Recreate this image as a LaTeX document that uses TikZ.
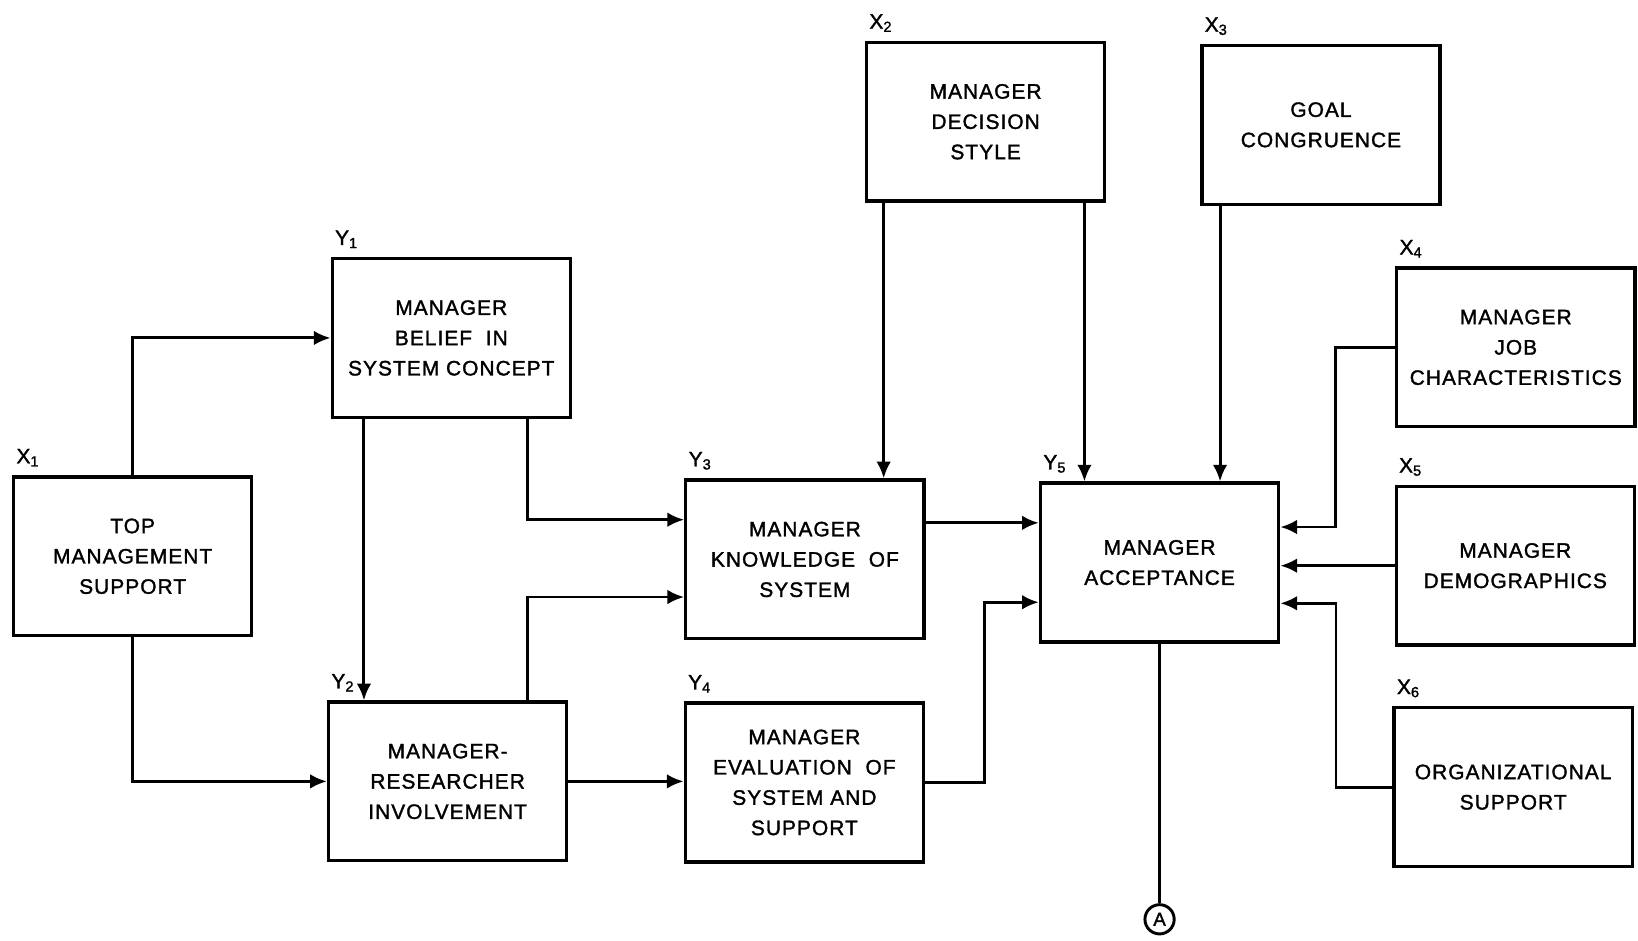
\documentclass[tikz,border=0pt]{standalone}
\usepackage{fontspec}
\setmainfont[LetterSpace=5,FakeBold=1.5]{Liberation Sans}
\usepackage{tikz}
\usetikzlibrary{arrows.meta,positioning}
\tikzset{
    var-box/.style = {draw=black, fill=white, line width=1.6pt, rectangle, minimum width=114pt, minimum height=76pt, align=center, font=\fontsize{10}{14.5}\selectfont},
    var-tag/.style = {inner sep=0pt, font=\fontsize{10}{12}\selectfont},
    link/.style = {draw=black, line width=1.4pt},
    link-arrow/.style = {link, -{Latex[length=8pt,width=7pt]}},
}

\begin{document}
\begin{tikzpicture}[x=0.5pt,y=-0.5pt]
\useasboundingbox (0,0) rectangle (1568,900);
% boxes
\node [var-box] (x1) at (127,532.5) {TOP\\MANAGEMENT\\SUPPORT};
\node [var-box] (y1) at (432,323.5) {MANAGER\\BELIEF \ IN\\SYSTEM CONCEPT};
\node [var-box] (y2) at (428.5,748) {MANAGER-\\RESEARCHER\\INVOLVEMENT};
\node [var-box] (y3) at (770.5,535.5) {MANAGER\\KNOWLEDGE \ OF\\SYSTEM};
\node [var-box] (y4) at (770,749) {MANAGER\\EVALUATION \ OF\\SYSTEM AND\\SUPPORT};
\node [var-box] (x2) at (943.5,116.5) {MANAGER\\DECISION\\STYLE};
\node [var-box] (x3) at (1264.5,119.5) {GOAL\\CONGRUENCE};
\node [var-box] (y5) at (1110,538.5) {MANAGER\\ACCEPTANCE};
\node [var-box] (x4) at (1451,332.5) {MANAGER\\JOB\\CHARACTERISTICS};
\node [var-box] (x5) at (1450.5,541.5) {MANAGER\\DEMOGRAPHICS};
\node [var-box] (x6) at (1448.5,753.5) {ORGANIZATIONAL\\SUPPORT};
\node [draw, circle, line width=1.4pt, inner sep=0pt, minimum size=14pt, font=\fontsize{9}{10}\selectfont] (a) at (1110,880) {A};

% variable tags
\node [var-tag, above right=4pt and 2pt] at (x1.north west) {X\textsubscript{1}};
\node [var-tag, above right=4pt and 2pt] at (x2.north west) {X\textsubscript{2}};
\node [var-tag, above right=4pt and 2pt] at (x3.north west) {X\textsubscript{3}};
\node [var-tag, above right=4pt and 2pt] at (x4.north west) {X\textsubscript{4}};
\node [var-tag, above right=4pt and 2pt] at (x5.north west) {X\textsubscript{5}};
\node [var-tag, above right=4pt and 2pt] at (x6.north west) {X\textsubscript{6}};
\node [var-tag, above right=4pt and 2pt] at (y1.north west) {Y\textsubscript{1}};
\node [var-tag, above right=4pt and 2pt] at (y2.north west) {Y\textsubscript{2}};
\node [var-tag, above right=4pt and 2pt] at (y3.north west) {Y\textsubscript{3}};
\node [var-tag, above right=4pt and 2pt] at (y4.north west) {Y\textsubscript{4}};
\node [var-tag, above right=4pt and 2pt] at (y5.north west) {Y\textsubscript{5}};

% links
\draw [link-arrow] (x1.north) |- (y1.west);
\draw [link-arrow] (x1.south) |- (y2.west);
\draw [link-arrow] ([xshift=16pt]y1.south west) -- ([xshift=16pt]y1.south west |- y2.north);
\draw [link-arrow] ([xshift=-21.5pt]y1.south east) |- ([yshift=19pt]y3.west);
\draw [link-arrow] ([xshift=-19.5pt]y2.north east) |- ([yshift=-18pt]y3.west);
\draw [link-arrow] (y2.east) -- (y2.east -| y4.west);
\draw [link-arrow] ([yshift=17.5pt]y3.east) -- ([yshift=17.5pt]y3.east -| y5.west);
\draw [link-arrow] (y4.east) -- ++(28.5pt,0) |- ([yshift=-19pt]y5.west);
\draw [link-arrow] ([xshift=9pt]x2.south west) -- ([xshift=9pt]x2.south west |- y3.north);
\draw [link-arrow] ([xshift=-10.5pt]x2.south east) -- ([xshift=-10.5pt]x2.south east |- y5.north);
\draw [link-arrow] ([xshift=9.5pt]x3.south west) -- ([xshift=9.5pt]x3.south west |- y5.north);
\draw [link-arrow] (x4.west) -- ++(-28.5pt,0) |- ([yshift=17pt]y5.east);
\draw [link-arrow] (x5.west) -- (x5.west -| y5.east);
\draw [link-arrow] (x6.west) -- ++(-27pt,0) |- ([yshift=-19.5pt]y5.east);
\draw [link] (y5.south) -- (a.north);
\end{tikzpicture}
\end{document}
